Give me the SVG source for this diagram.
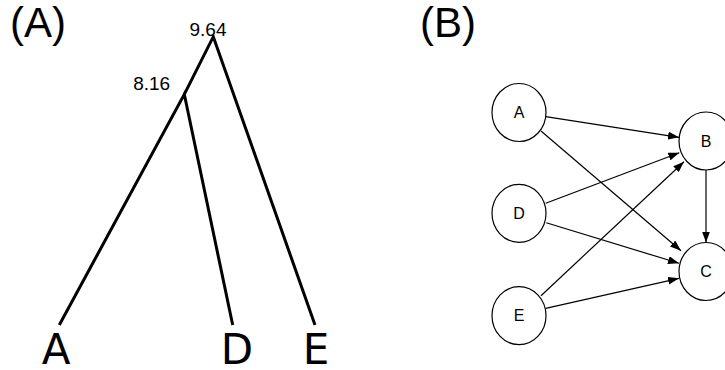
<svg xmlns="http://www.w3.org/2000/svg" width="725" height="370" viewBox="0 0 725 370">
  <style>
    .panel { font-family: "Liberation Sans", Arial, sans-serif; font-size: 42px; fill: #000; }
    .height { font-family: "Liberation Sans", Arial, sans-serif; font-size: 19px; fill: #000; text-anchor: middle; }
    .leaf { font-family: "DejaVu Sans", sans-serif; font-size: 42px; fill: #000; text-anchor: middle; }
    .branch { stroke: #000; stroke-width: 3; fill: none; }
    .node ellipse { fill: #fff; stroke: #000; stroke-width: 1.2; }
    .node text { font-family: "Liberation Sans", Arial, sans-serif; font-size: 16px; fill: #000; text-anchor: middle; }
    .edge { stroke: #000; stroke-width: 1.2; fill: none; marker-end: url(#arrow); }
  </style>
  <defs>
    <marker id="arrow" markerUnits="userSpaceOnUse" markerWidth="11" markerHeight="8" refX="11" refY="4" orient="auto">
      <path d="M0,0 L11,4 L0,8 z" fill="#000"/>
    </marker>
  </defs>
  <rect width="725" height="370" fill="#fff"/>

  <!-- panel (A): dendrogram -->
  <text class="panel" x="10" y="37">(A)</text>
  <g id="dendrogram">
    <path class="branch" d="M59.3,325 L184.3,94.3 L232.7,325"/>
    <path class="branch" d="M184.3,94.3 L213.3,36.7 L315,325"/>
    <text class="height" x="208" y="35.5">9.64</text>
    <text class="height" x="151.7" y="90">8.16</text>
  </g>
  <g id="leaf-A"><text class="leaf" x="56" y="364">A</text></g>
  <g id="leaf-D"><text class="leaf" x="237" y="364">D</text></g>
  <g id="leaf-E"><text class="leaf" x="316" y="364">E</text></g>

  <!-- panel (B): directed graph -->
  <text class="panel" x="420" y="37">(B)</text>
  <g id="connectors">
    <line class="edge" x1="545.7" y1="116.7" x2="679" y2="137.3"/>
    <line class="edge" x1="541" y1="131" x2="681" y2="250.7"/>
    <line class="edge" x1="545.7" y1="203.3" x2="679.3" y2="152.7"/>
    <line class="edge" x1="546.3" y1="222.7" x2="679" y2="263.3"/>
    <line class="edge" x1="541" y1="295.7" x2="684" y2="161.7"/>
    <line class="edge" x1="545.7" y1="308.3" x2="679" y2="278.3"/>
    <line class="edge" x1="706" y1="170" x2="706" y2="242.5"/>
  </g>
  <g id="node-A" class="node"><ellipse cx="519" cy="112.5" rx="27" ry="29"/><text x="519" y="118">A</text></g>
  <g id="node-D" class="node"><ellipse cx="519" cy="213.3" rx="27" ry="29"/><text x="519" y="219">D</text></g>
  <g id="node-E" class="node"><ellipse cx="519" cy="315.7" rx="27" ry="29"/><text x="519" y="321">E</text></g>
  <g id="node-B" class="node"><ellipse cx="706" cy="141" rx="27" ry="29"/><text x="706" y="146.5">B</text></g>
  <g id="node-C" class="node"><ellipse cx="706" cy="271.5" rx="27" ry="29"/><text x="706" y="277">C</text></g>
</svg>
